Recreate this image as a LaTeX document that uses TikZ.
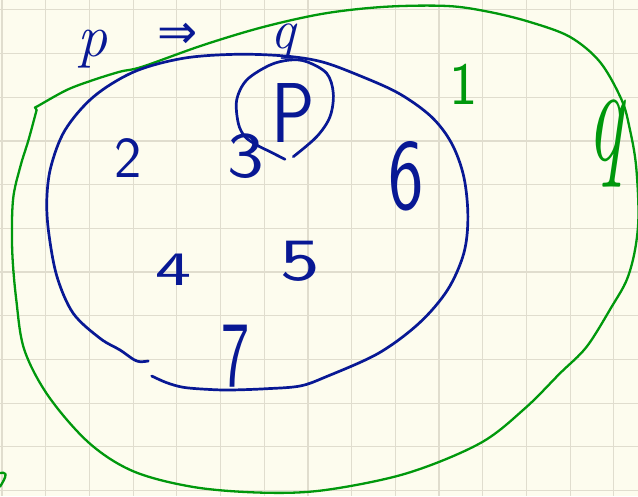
\documentclass[tikz,border=0pt]{standalone}
\usepackage{fontspec}
\newfontfamily\symfont{DejaVu Sans}
\definecolor{paper}{RGB}{253,252,238}
\definecolor{gridc}{RGB}{224,221,206}
\definecolor{inkblue}{RGB}{8,24,148}
\definecolor{inkgreen}{RGB}{0,152,12}
\tikzset{
  bluestroke/.style={draw=inkblue, line width=2.7pt, line cap=round, line join=round},
  greenstroke/.style={draw=inkgreen, line width=2.3pt, line cap=round, line join=round},
  gridline/.style={draw=gridc, line width=1.2pt},
  bnum/.style={text=inkblue, inner sep=0pt, font=\sffamily\fontsize{#1}{#1}\selectfont},
  gnum/.style={text=inkgreen, inner sep=0pt, font=\sffamily\fontsize{#1}{#1}\selectfont},
  bital/.style={text=inkblue, inner sep=0pt, font=\itshape\fontsize{#1}{#1}\selectfont},
  gital/.style={text=inkgreen, inner sep=0pt, font=\itshape\fontsize{#1}{#1}\selectfont},
  bsym/.style={text=inkblue, inner sep=0pt, font=\symfont\fontsize{#1}{#1}\selectfont},
}
\begin{document}
\begin{tikzpicture}[x=1pt,y=-1pt]
\useasboundingbox (0,0) rectangle (638,496);
\clip (0,0) rectangle (638,496);
\fill[paper] (0,0) rectangle (638,496);
\foreach \i in {0,...,14} \draw[gridline] ({2+43.7*\i},0) -- ({2+43.7*\i},496);
\foreach \j in {0,...,11} \draw[gridline] (0,{9.8+43.7*\j}) -- (638,{9.8+43.7*\j});

% green set q
\draw[greenstroke] plot[smooth, tension=0.55] coordinates {(38,106) (66.7,90) (93.3,80) (120,71.7) (142.4,66.7) (203.4,45) (264.4,26.7) (325.5,13.3) (386.5,6.7) (447.5,6) (488.2,11.7) (528.9,21.7) (569.6,36.7) (600,62) (621.7,100) (630,130) (636,165) (638.5,215) (635,250) (626.7,280) (611.7,306.7) (586.7,346.7) (560,373.3) (525,408.3) (480,443.3) (406.8,473.3) (325.5,490) (264.4,492.7) (195.3,487.3) (134.3,471.7) (89.5,443.3) (48.8,396.7) (24.4,350) (16.3,300) (12.2,250) (13,200) (20.3,166.7) (28.5,140) (36.6,110)};
\draw[greenstroke] (36.6,110) -- (35,107.5) -- (38,106);
\draw[greenstroke] (0,486.7) .. controls (3,482) and (6,477) .. (5.5,474) .. controls (5,472.5) and (2,472.5) .. (0,473);

% blue set p
\draw[bluestroke] plot[smooth, tension=0.55] coordinates {(151.7,376) (166.7,382.7) (183.3,387.3) (206.7,389.3) (230,390) (266.7,388.7) (300,386) (325.5,377) (378.4,353.3) (419,323.3) (447.5,290) (463.8,253.3) (467.9,216.7) (463.8,176.7) (451.6,143.3) (431.3,116.7) (398.7,93.3) (358,75) (321.4,61.7) (284.8,56) (236,54.3) (183.1,58.3) (134.3,71.7) (93.6,96.7) (65.1,130) (50.9,166.7) (46.8,200) (48.8,233.3) (57,276.7) (73.2,313.3) (100,338.3) (120,350) (133.3,359.3) (140,361.7) (148.3,361)};

% circle round P
\draw[bluestroke] plot[smooth, tension=0.55] coordinates {(293.3,156.7) (316.7,136.7) (330,116.7) (333.3,93.3) (326.7,73.3) (306.7,61.7) (290,60) (270,65) (246.7,80) (236.7,100) (238.3,123.3) (245,136.7) (256.7,145) (270,151.7) (285,159.3)};

% labels
\node[bital=60, anchor=base] (ptop) at (92,56) {p};
\node[bsym=48, anchor=base] (imp) at (178,48) {⇒};
\node[bital=56, anchor=base] (qtop) at (283,48) {q};
\node[gital=80, yscale=1.72, anchor=base] (qset) at (605,160) {q};
\node[bnum=85, xscale=0.85] (pset) at (293,113.5) {P};
\node[gnum=60] (n1) at (464,84.5) {1};
\node[bnum=58] (n2) at (128.5,158) {2};
\node[bnum=65, xscale=1.2] (n3) at (246,156) {3};
\node[bnum=48, xscale=1.6] (n4) at (173.5,270) {4};
\node[bnum=60, xscale=1.4] (n5) at (300.5,261) {5};
\node[bnum=75, yscale=1.35] (n6) at (406,176.5) {6};
\node[bnum=60, yscale=1.56] (n7) at (236,356.5) {7};
\end{tikzpicture}
\end{document}
